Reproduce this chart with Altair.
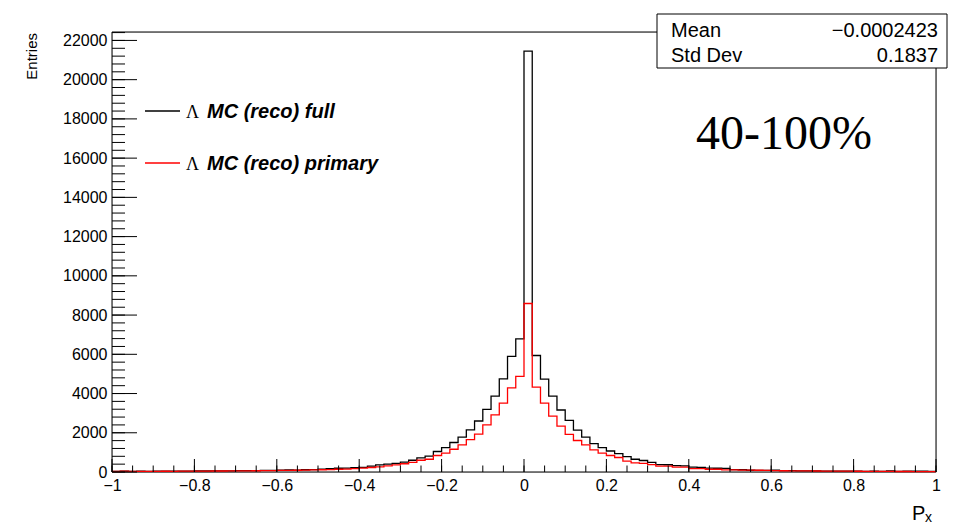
import altair as alt
import pandas as pd

# ---------------- data ----------------
bin_edges = [round(-1 + 0.02 * i, 2) for i in range(101)]

full_counts = [
    30, 45, 30, 40, 35, 38, 42, 40, 48, 45,
    52, 50, 55, 62, 60, 68, 70, 75, 80, 85,
    90, 105, 100, 115, 125, 140, 165, 190, 195, 225,
    240, 300, 360, 400, 440, 500, 600, 720, 810, 1045,
    1240, 1505, 1780, 2150, 2600, 3190, 3870, 4750, 5890, 6790,
    21450, 5940, 4730, 3870, 3160, 2630, 2130, 1775, 1450, 1240,
    1070, 935, 780, 650, 585, 490, 380, 370, 320, 310,
    250, 240, 195, 190, 180, 125, 115, 90, 85, 80,
    95, 70, 75, 60, 55, 52, 48, 45, 42, 40,
    38, 35, 38, 30, 50, 30, 45, 40, 45, 35,
]

primary_counts = [
    25, 40, 30, 35, 30, 35, 38, 36, 40, 40,
    45, 45, 50, 52, 55, 58, 60, 65, 70, 72,
    78, 85, 90, 95, 105, 115, 125, 140, 150, 170,
    195, 230, 265, 315, 365, 420, 490, 600, 650, 840,
    960, 1160, 1385, 1650, 1930, 2405, 2915, 3510, 4290, 4870,
    8590, 4325, 3510, 2850, 2340, 1915, 1605, 1385, 1130, 960,
    840, 740, 550, 470, 440, 380, 300, 300, 250, 250,
    170, 170, 140, 140, 110, 110, 100, 95, 90, 80,
    70, 65, 62, 58, 55, 50, 48, 45, 42, 40,
    38, 35, 30, 30, 28, 25, 25, 22, 22, 20,
]

x_major_ticks = [-1, -0.8, -0.6, -0.4, -0.2, 0, 0.2, 0.4, 0.6, 0.8, 1]
x_minor_ticks = [round(-1 + 0.05 * i, 2) for i in range(41)]
y_major_ticks = [0, 2000, 4000, 6000, 8000, 10000, 12000, 14000, 16000, 18000, 20000, 22000]
y_minor_ticks = [400 * i for i in range(57)]

legend_labels = ["MC (reco) full", "MC (reco) primary"]
stats_names = ["Mean", "Std Dev"]
stats_values = ["\u22120.0002423", "0.1837"]
centrality = "40-100%"

W, H = 824, 440
Y_MAX = 22430

# ---------------- build tables ----------------
def step_table(counts):
    xs = bin_edges
    ys = list(counts) + [counts[-1]]
    return pd.DataFrame({"x": xs, "y": ys})

full_df = step_table(full_counts)
prim_df = step_table(primary_counts)

xscale = alt.Scale(domain=[-1, 1], nice=False, zero=False)
yscale = alt.Scale(domain=[0, Y_MAX], nice=False, zero=False)

xaxis = alt.Axis(values=x_major_ticks, format="~g", ticks=False, domain=False, grid=False,
                 labelFontSize=16, labelFont="Liberation Sans", labelColor="black",
                 labelPadding=5, title=None, labelFlush=False)
yaxis = alt.Axis(values=y_major_ticks, format="d", ticks=False, domain=False, grid=False,
                 labelFontSize=16, labelFont="Liberation Sans", labelColor="black",
                 labelPadding=5, title=None, labelFlush=False)

one = pd.DataFrame({"a": [0]})

frame = alt.Chart(one).mark_rect(fillOpacity=0, stroke="black", strokeWidth=1).encode(
    x=alt.value(0), x2=alt.value(W), y=alt.value(0), y2=alt.value(H)
)

full_line = alt.Chart(full_df).mark_line(
    interpolate="step-after", color="black", strokeWidth=1.3
).encode(
    x=alt.X("x:Q", scale=xscale, axis=xaxis),
    y=alt.Y("y:Q", scale=yscale, axis=yaxis),
)

prim_line = alt.Chart(prim_df).mark_line(
    interpolate="step-after", color="#ff0000", strokeWidth=1.3
).encode(
    x=alt.X("x:Q", scale=xscale, axis=xaxis),
    y=alt.Y("y:Q", scale=yscale, axis=yaxis),
)

xmaj = alt.Chart(pd.DataFrame({"x": x_major_ticks})).mark_rule(color="black", strokeWidth=1).encode(
    x=alt.X("x:Q", scale=xscale, axis=xaxis), y=alt.value(H), y2=alt.value(H - 13)
)
xmin = alt.Chart(pd.DataFrame({"x": x_minor_ticks})).mark_rule(color="black", strokeWidth=1).encode(
    x=alt.X("x:Q", scale=xscale, axis=xaxis), y=alt.value(H), y2=alt.value(H - 6.5)
)
ymaj = alt.Chart(pd.DataFrame({"y": y_major_ticks})).mark_rule(color="black", strokeWidth=1).encode(
    y=alt.Y("y:Q", scale=yscale, axis=yaxis), x=alt.value(0), x2=alt.value(25)
)
ymin = alt.Chart(pd.DataFrame({"y": y_minor_ticks})).mark_rule(color="black", strokeWidth=1).encode(
    y=alt.Y("y:Q", scale=yscale, axis=yaxis), x=alt.value(0), x2=alt.value(13)
)

# stats box
box = alt.Chart(one).mark_rect(fill="white", stroke="black", strokeWidth=1).encode(
    x=alt.value(545), x2=alt.value(835), y=alt.value(-18), y2=alt.value(36)
)
stat_texts = []
for i, (n, v) in enumerate(zip(stats_names, stats_values)):
    yb = 4.5 + 25.5 * i
    stat_texts.append(alt.Chart(one).mark_text(
        align="left", baseline="alphabetic", font="Liberation Sans", fontSize=20, color="black"
    ).encode(x=alt.value(559), y=alt.value(yb), text=alt.value(n)))
    stat_texts.append(alt.Chart(one).mark_text(
        align="right", baseline="alphabetic", font="Liberation Sans", fontSize=20, color="black"
    ).encode(x=alt.value(826), y=alt.value(yb), text=alt.value(v)))

cent = alt.Chart(one).mark_text(
    align="center", baseline="alphabetic", font="Liberation Serif", fontSize=48, color="black"
).encode(x=alt.value(672), y=alt.value(117), text=alt.value(centrality))

# legend
leg_layers = []
for i, (lab, col) in enumerate(zip(legend_labels, ["black", "#ff0000"])):
    ly = 79 + 52 * i
    leg_layers.append(alt.Chart(one).mark_rule(color=col, strokeWidth=1.3).encode(
        x=alt.value(33), x2=alt.value(68), y=alt.value(ly)))
    leg_layers.append(alt.Chart(one).mark_text(
        align="left", baseline="alphabetic", font="Liberation Serif", fontSize=18, color="black"
    ).encode(x=alt.value(74), y=alt.value(ly + 6.5), text=alt.value("\u039b")))
    leg_layers.append(alt.Chart(one).mark_text(
        align="left", baseline="alphabetic", font="Liberation Sans", fontSize=20,
        fontStyle="italic", fontWeight="bold", color="black"
    ).encode(x=alt.value(95), y=alt.value(ly + 7), text=alt.value(lab)))

# axis titles
ytitle = alt.Chart(one).mark_text(
    align="right", baseline="alphabetic", angle=270, font="Liberation Sans", fontSize=15, color="black"
).encode(x=alt.value(-75), y=alt.value(1), text=alt.value("Entries"))
xtitle_p = alt.Chart(one).mark_text(
    align="left", baseline="alphabetic", font="Liberation Sans", fontSize=20, color="black"
).encode(x=alt.value(800), y=alt.value(488), text=alt.value("P"))
xtitle_x = alt.Chart(one).mark_text(
    align="left", baseline="alphabetic", font="Liberation Sans", fontSize=14, color="black"
).encode(x=alt.value(813), y=alt.value(490), text=alt.value("x"))

chart = alt.layer(
    frame, full_line, prim_line, xmaj, xmin, ymaj, ymin,
    box, *stat_texts, cent, *leg_layers, ytitle, xtitle_p, xtitle_x
).properties(
    width=W, height=H,
    autosize=alt.AutoSizeParams(type="none"),
    padding={"left": 112, "top": 32, "right": 27, "bottom": 54},
).configure_view(stroke=None).configure(background="white")

chart.save("out.html", embed_options={"renderer": "svg", "actions": False})
